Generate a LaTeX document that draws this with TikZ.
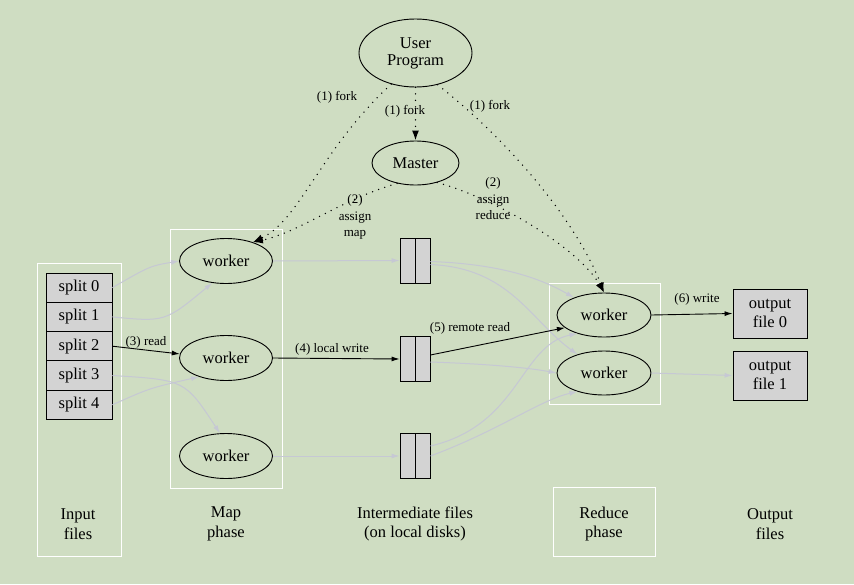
\documentclass[tikz,border=0pt]{standalone}
\usepackage{fontspec}
\setmainfont{Liberation Serif}
\usetikzlibrary{shapes.geometric,arrows.meta}
\definecolor{bgc}{RGB}{207,221,194}
\definecolor{boxg}{RGB}{211,211,211}
\definecolor{edgeg}{RGB}{198,200,212}
\begin{document}
\begin{tikzpicture}[x=1pt,y=-1pt,
 ell/.style={draw,ellipse,line width=0.9pt,inner sep=0pt,align=center,font=\fontsize{16.5}{19}\selectfont},
 wk/.style={ell,minimum width=93,minimum height=45},
 filebox/.style={draw,fill=boxg,line width=0.9pt,inner sep=0pt,align=center,font=\fontsize{16.5}{19}\selectfont},
 phasebox/.style={draw=white,line width=1pt},
 lab/.style={font=\fontsize{13}{16.5}\selectfont,align=center,inner sep=0pt},
 capt/.style={font=\fontsize{16.5}{19.5}\selectfont,align=center,inner sep=0pt},
 ctrl/.style={line width=0.9pt,-{Latex[length=8pt,width=5pt]}},
 gr/.style={draw=edgeg,line width=1pt,-{Latex[length=8pt,width=5pt]}},
 dotl/.style={line width=1.5pt,dash pattern=on 0pt off 6.5pt,line cap=round,-{Latex[length=10pt,width=7pt]}},
]
\fill[bgc] (0,0) rectangle (854,584);
\useasboundingbox (0,0) rectangle (854,584);

% phase boxes
\draw[phasebox] (37,263) rectangle (121,556);
\draw[phasebox] (170,229) rectangle (282,488);
\draw[phasebox] (549,283) rectangle (660,404);
\draw[phasebox] (553,487) rectangle (655,556);

% nodes
\node[ell,minimum width=113,minimum height=68] (user) at (415.5,53) {\raisebox{-2pt}{\begin{tabular}{@{}c@{}}User\\[-2pt]Program\end{tabular}}};
\node[ell,minimum width=87,minimum height=44] (master) at (415.5,163) {Master};

\foreach \i/\y in {0/287.6,1/316.9,2/346.2,3/375.5,4/404.8}
  \node[filebox,minimum width=66,minimum height=29.3] (s\i) at (79,\y) {split \i};

\node[wk] (mw1) at (226,261) {worker};
\node[wk] (mw2) at (226,358) {worker};
\node[wk] (mw3) at (226,456) {worker};

\foreach \i/\y in {1/260.5,2/359,3/456}{
  \node[filebox,minimum width=15,minimum height=45] (if\i a) at (407.5,\y) {};
  \node[filebox,minimum width=15,minimum height=45] (if\i b) at (422.5,\y) {};
}

\node[wk,minimum width=94,minimum height=44] (rw1) at (604,315) {worker};
\node[wk,minimum width=94,minimum height=44] (rw2) at (604,373) {worker};

\node[filebox,minimum width=74,minimum height=49] (out0) at (770,313.5) {output\\file 0};
\node[filebox,minimum width=74,minimum height=49] (out1) at (770,375.5) {output\\file 1};

% captions
\node[capt] (c1) at (78,524) {Input\\files};
\node[capt] (c2) at (226,524) {Map\\phase};
\node[capt] (c3) at (415,524) {Intermediate files\\(on local disks)};
\node[capt] (c4) at (604,524) {Reduce\\phase};
\node[capt] (c5) at (770,524) {Output\\files};

% gray edges
\draw[gr] (s0.east) .. controls (150,266) .. (mw1.west);
\draw[gr] (s1.east) .. controls (165,322) .. (mw1.238);
\draw[gr] (s4.east) .. controls (150,388) .. (mw2.215);
\draw[gr] (s3.east) .. controls (185,380) .. (mw3.105);
\draw[gr] (mw1.east) -- (if1a.west);
\draw[gr] (mw3.east) -- (if3a.west);
\draw[gr] ([yshift=-1]if1b.east) .. controls (500,264) and (540,278) .. (rw1.150);
\draw[gr] ([yshift=-4]if1b.east) .. controls (510,268) and (530,320) .. (rw2.145);
\draw[gr] ([yshift=-3]if2b.east) .. controls (490,364) and (530,368) .. (rw2.west);
\draw[gr] ([yshift=10]if3b.east) .. controls (520,425) and (520,345) .. (rw1.215);
\draw[gr] ([yshift=0]if3b.east) .. controls (500,430) and (540,400) .. (rw2.215);
\draw[gr] (rw2.east) -- (out1.west);

% control edges
\draw[ctrl] (s2.east) -- (mw2.175);
\draw[ctrl] (mw2.east) -- (if2a.west);
\draw[ctrl] ([yshift=4]if2b.east) -- (rw1.198);
\draw[ctrl] (rw1.east) -- (out0.west);

% dotted edges
\draw[dotl] (user.270) -- (master.north);
\draw[dotl] (user.232) .. controls (320,150) and (300,220) .. (mw1.35);
\draw[dotl] (master.228) .. controls (340,200) and (300,232) .. (mw1.35);
\draw[dotl] (user.305) .. controls (520,150) and (580,230) .. (rw1.north);
\draw[dotl] (master.318) .. controls (500,200) and (580,250) .. (rw1.north);

% labels
\node[lab] (l1) at (337,97) {(1) fork};
\node[lab] (l2) at (405,111) {(1) fork};
\node[lab] (l3) at (490,106) {(1) fork};
\node[lab] (l4) at (355,217) {(2)\\assign\\map};
\node[lab] (l5) at (493,199) {(2)\\assign\\reduce};
\node[lab] (l6) at (146,342) {(3) read};
\node[lab] (l7) at (332,349) {(4) local write};
\node[lab] (l8) at (470,328) {(5) remote read};
\node[lab] (l9) at (697,299) {(6) write};
\end{tikzpicture}
\end{document}
